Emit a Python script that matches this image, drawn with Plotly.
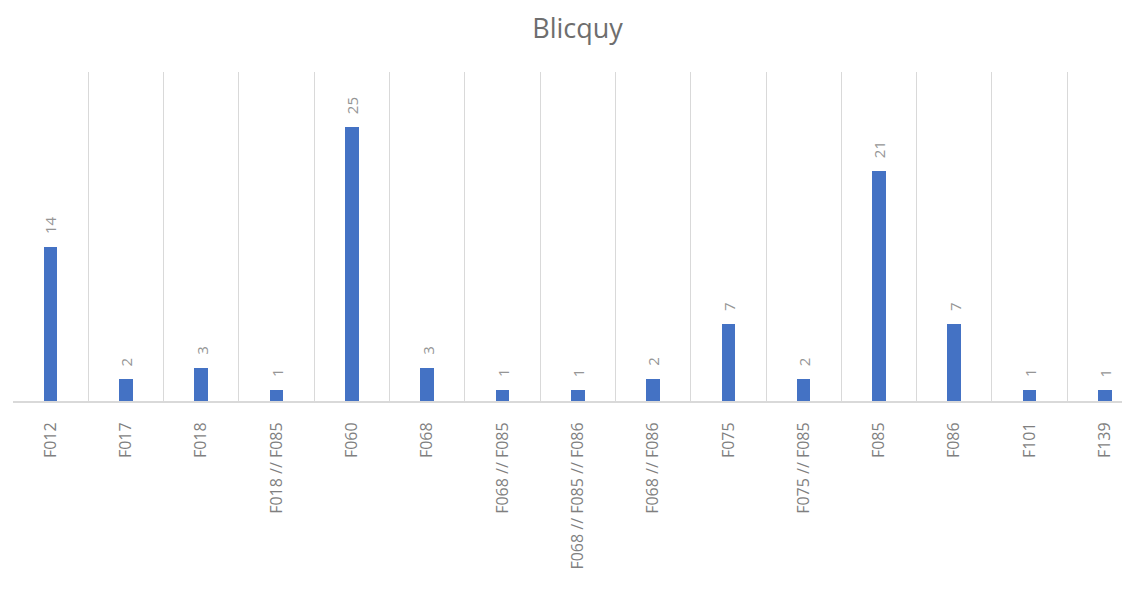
import plotly.graph_objects as go

categories = ["F012", "F017", "F018", "F018 // F085", "F060", "F068", "F068 // F085",
              "F068 // F085 // F086", "F068 // F086", "F075", "F075 // F085", "F085",
              "F086", "F101", "F139"]
values = [14, 2, 3, 1, 25, 3, 1, 1, 2, 7, 2, 21, 7, 1, 1]

fig = go.Figure()
fig.add_trace(go.Bar(x=categories, y=values, marker=dict(color="#4472C4", line=dict(width=0)),
                     width=0.18, hoverinfo="x+y"))

for c, v in zip(categories, values):
    fig.add_annotation(x=c, y=v, text=str(v), showarrow=False, textangle=-90,
                       yanchor="bottom", xanchor="center", yshift=11,
                       font=dict(family="Open Sans", size=15, color="#959595"))

fig.update_layout(
    width=1130, height=601,
    margin=dict(l=5, r=0, t=64, b=208, autoexpand=False),
    paper_bgcolor="white", plot_bgcolor="white",
    title=dict(text="Blicquy", x=0.504, xanchor="center", y=0.965, yanchor="middle",
               font=dict(family="Open Sans", size=27, color="#6E6E6E")),
    showlegend=False,
    bargap=0,
)
fig.update_xaxes(type="category", tickson="boundaries", showgrid=True, gridcolor="#D9D9D9",
                 gridwidth=1, ticks="", tickangle=-90, range=[-0.5, 14.44], automargin=False,
                 tickfont=dict(family="Open Sans", size=16, color="#7F7F7F"),
                 showline=True, linecolor="#D9D9D9", linewidth=2, ticklabelstandoff=13)
fig.update_yaxes(range=[0, 30], showgrid=False, showticklabels=False, zeroline=False,
                 showline=False, automargin=False)

fig.write_html("out.html")
